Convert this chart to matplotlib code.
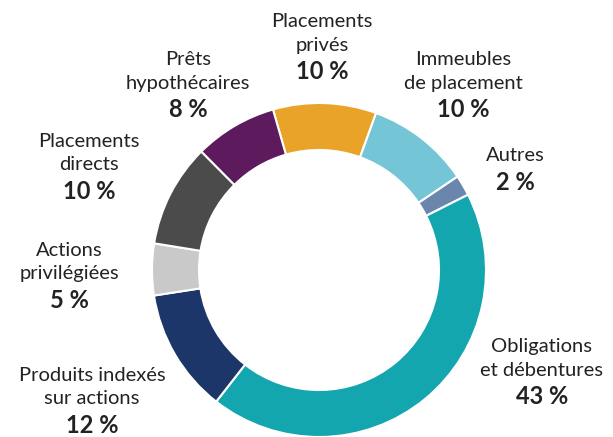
import matplotlib
matplotlib.use('Agg')
import matplotlib.pyplot as plt

# portfolio mix, clockwise from top
labels = ['Placements\nprivés', 'Immeubles\nde placement', 'Autres',
          'Obligations\net débentures', 'Produits indexés\nsur actions',
          'Actions\nprivilégiées', 'Placements\ndirects', 'Prêts\nhypothécaires']
shares = [10, 10, 2, 43, 12, 5, 10, 8]
colors = ['#E8A328', '#74C5D5', '#6A86AD', '#14A6AF', '#1C3669',
          '#C9C9C9', '#4B4B4B', '#5D1A5C']
# label centre x and first-line baseline y (px from top-left)
label_pos = [(322, 27), (463, 65), (515, 161), (542, 352),
             (92, 381), (69, 256), (89, 147), (188, 65)]

W, H = 613, 437
fig = plt.figure(figsize=(W / 100, H / 100), dpi=100)

cx, cy, R = 319, 270, 167
ax = fig.add_axes([(cx - R) / W, (H - cy - R) / H, 2 * R / W, 2 * R / H])
ax.pie(shares, colors=colors, startangle=106, counterclock=False, radius=1,
       wedgeprops=dict(width=47 / R, edgecolor='white', linewidth=1.5))
ax.set_xlim(-1, 1)
ax.set_ylim(-1, 1)
ax.set_aspect('auto')
ax.axis('off')

fam = ['Lato', 'DejaVu Sans']
txt_col = '#222222'
for lab, val, (x, y) in zip(labels, shares, label_pos):
    lines = lab.split('\n')
    for i, ln in enumerate(lines):
        fig.text(x / W, 1 - (y + 23.5 * i) / H, ln, ha='center', va='baseline',
                 fontsize=14.5, family=fam, color=txt_col)
    yb = y + 23.5 * (len(lines) - 1) + 28.5
    fig.text(x / W, 1 - yb / H, f'{val} %', ha='center', va='baseline',
             fontsize=17, family=fam, fontweight='bold', color=txt_col)

fig.savefig('out.png', dpi=100)
